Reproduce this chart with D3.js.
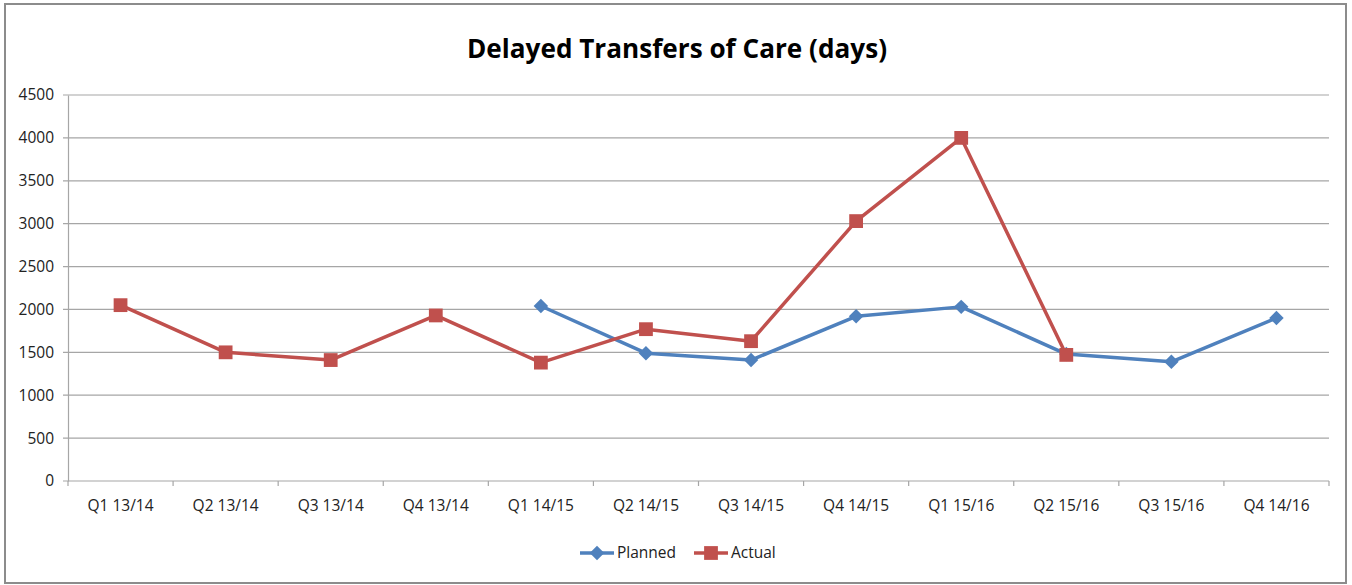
<!DOCTYPE html>
<html>
<head>
<meta charset="utf-8">
<script src="https://cdn.jsdelivr.net/npm/d3@7"></script>
<style>
  body { margin: 0; background: #fff; }
  svg { display: block; }
  .tick text { font-family: "Open Sans", "Liberation Sans", sans-serif; }
</style>
</head>
<body>
<div id="chart"></div>
<script>
'use strict';

var categories = ['Q1 13/14', 'Q2 13/14', 'Q3 13/14', 'Q4 13/14', 'Q1 14/15', 'Q2 14/15',
  'Q3 14/15', 'Q4 14/15', 'Q1 15/16', 'Q2 15/16', 'Q3 15/16', 'Q4 14/16'];
var planned = [null, null, null, null, 2040, 1490, 1410, 1920, 2030, 1480, 1390, 1900];
var actual = [2050, 1500, 1410, 1930, 1380, 1770, 1630, 3030, 4000, 1470, null, null];
var yTicks = [0, 500, 1000, 1500, 2000, 2500, 3000, 3500, 4000, 4500];

var W = 1352, H = 585;
var margins = { left: 68, right: 23, top: 95, bottom: 104 };
var width = W - margins.left - margins.right;
var height = H - margins.top - margins.bottom;
var blue = '#4f81bd', red = '#c0504d';
var font = '"Open Sans", "Liberation Sans", sans-serif';

var svg = d3.select('#chart').append('svg')
  .attr('width', W)
  .attr('height', H);

// outer frame
svg.append('rect')
  .attr('x', 5).attr('y', 4)
  .attr('width', 1341).attr('height', 579)
  .attr('fill', '#fff')
  .attr('stroke', '#8c8c8c')
  .attr('stroke-width', 2);

svg.append('text')
  .attr('x', W / 2 + 1)
  .attr('y', 58)
  .attr('text-anchor', 'middle')
  .style('font-family', font)
  .style('font-weight', 'bold')
  .style('font-size', '27px')
  .attr('textLength', 420)
  .attr('lengthAdjust', 'spacingAndGlyphs')
  .text('Delayed Transfers of Care (days)');

var x = d3.scaleBand().domain(categories).range([0, width]);
var y = d3.scaleLinear().domain([0, 4500]).range([height, 0]);

var chart = svg.append('g')
  .attr('transform', 'translate(' + margins.left + ',' + margins.top + ')');

// gridlines
chart.append('g')
  .selectAll('line')
  .data(yTicks)
  .enter()
  .append('line')
  .attr('x1', -5)
  .attr('x2', width)
  .attr('y1', function(d) { return y(d); })
  .attr('y2', function(d) { return y(d); })
  .attr('stroke', '#a6a6a6')
  .attr('stroke-width', 1.2);

var yAxis = chart.append('g')
  .call(d3.axisLeft(y).tickValues(yTicks).tickFormat(d3.format('d')).tickSize(0).tickPadding(14));
yAxis.select('.domain').attr('stroke', '#a6a6a6').attr('stroke-width', 1.2);
yAxis.selectAll('text').style('font-size', '15.5px').attr('fill', '#222');

var xAxis = chart.append('g')
  .attr('transform', 'translate(0,' + height + ')')
  .call(d3.axisBottom(x).tickSize(0).tickPadding(19));
xAxis.select('.domain').remove();
xAxis.selectAll('text').style('font-size', '15.5px').attr('fill', '#222');

// category boundary ticks
chart.append('g')
  .selectAll('line')
  .data(d3.range(categories.length + 1))
  .enter()
  .append('line')
  .attr('x1', function(i) { return i * x.step(); })
  .attr('x2', function(i) { return i * x.step(); })
  .attr('y1', height)
  .attr('y2', height + 5)
  .attr('stroke', '#a6a6a6')
  .attr('stroke-width', 1.2);

function cx(i) { return x(categories[i]) + x.bandwidth() / 2; }

var line = d3.line()
  .defined(function(d) { return d != null; })
  .x(function(d, i) { return cx(i); })
  .y(function(d) { return y(d); });

// diamond = square turned 45 degrees
var diamond = { sym: d3.symbol().type(d3.symbolSquare).size(105), rot: 45 };
var square = { sym: d3.symbol().type(d3.symbolSquare).size(190), rot: 0 };

function drawSeries(values, color, marker) {
  chart.append('path')
    .datum(values)
    .attr('fill', 'none')
    .attr('stroke', color)
    .attr('stroke-width', 3.5)
    .attr('stroke-linejoin', 'round')
    .attr('d', line);
  chart.append('g')
    .selectAll('path')
    .data(values.map(function(v, i) { return { v: v, i: i }; })
      .filter(function(d) { return d.v != null; }))
    .enter()
    .append('path')
    .attr('transform', function(d) {
      return 'translate(' + cx(d.i) + ',' + y(d.v) + ') rotate(' + marker.rot + ')';
    })
    .attr('fill', color)
    .attr('d', marker.sym);
}

drawSeries(planned, blue, diamond);
drawSeries(actual, red, square);

// legend
var legendItems = [
  { name: 'Planned', color: blue, marker: diamond, x: 580 },
  { name: 'Actual', color: red, marker: square, x: 694 }
];
var legend = svg.selectAll('.legend')
  .data(legendItems)
  .enter()
  .append('g')
  .attr('class', 'legend')
  .attr('transform', function(d) { return 'translate(' + d.x + ',553)'; });
legend.append('line')
  .attr('x1', 0).attr('x2', 34)
  .attr('stroke', function(d) { return d.color; })
  .attr('stroke-width', 3.5);
legend.append('path')
  .attr('transform', function(d) { return 'translate(17,0) rotate(' + d.marker.rot + ')'; })
  .attr('fill', function(d) { return d.color; })
  .attr('d', function(d) { return d.marker.sym(); });
legend.append('text')
  .attr('x', 37)
  .attr('dy', '0.35em')
  .style('font-family', font)
  .style('font-size', '15.5px')
  .attr('fill', '#222')
  .text(function(d) { return d.name; });
</script>
</body>
</html>
